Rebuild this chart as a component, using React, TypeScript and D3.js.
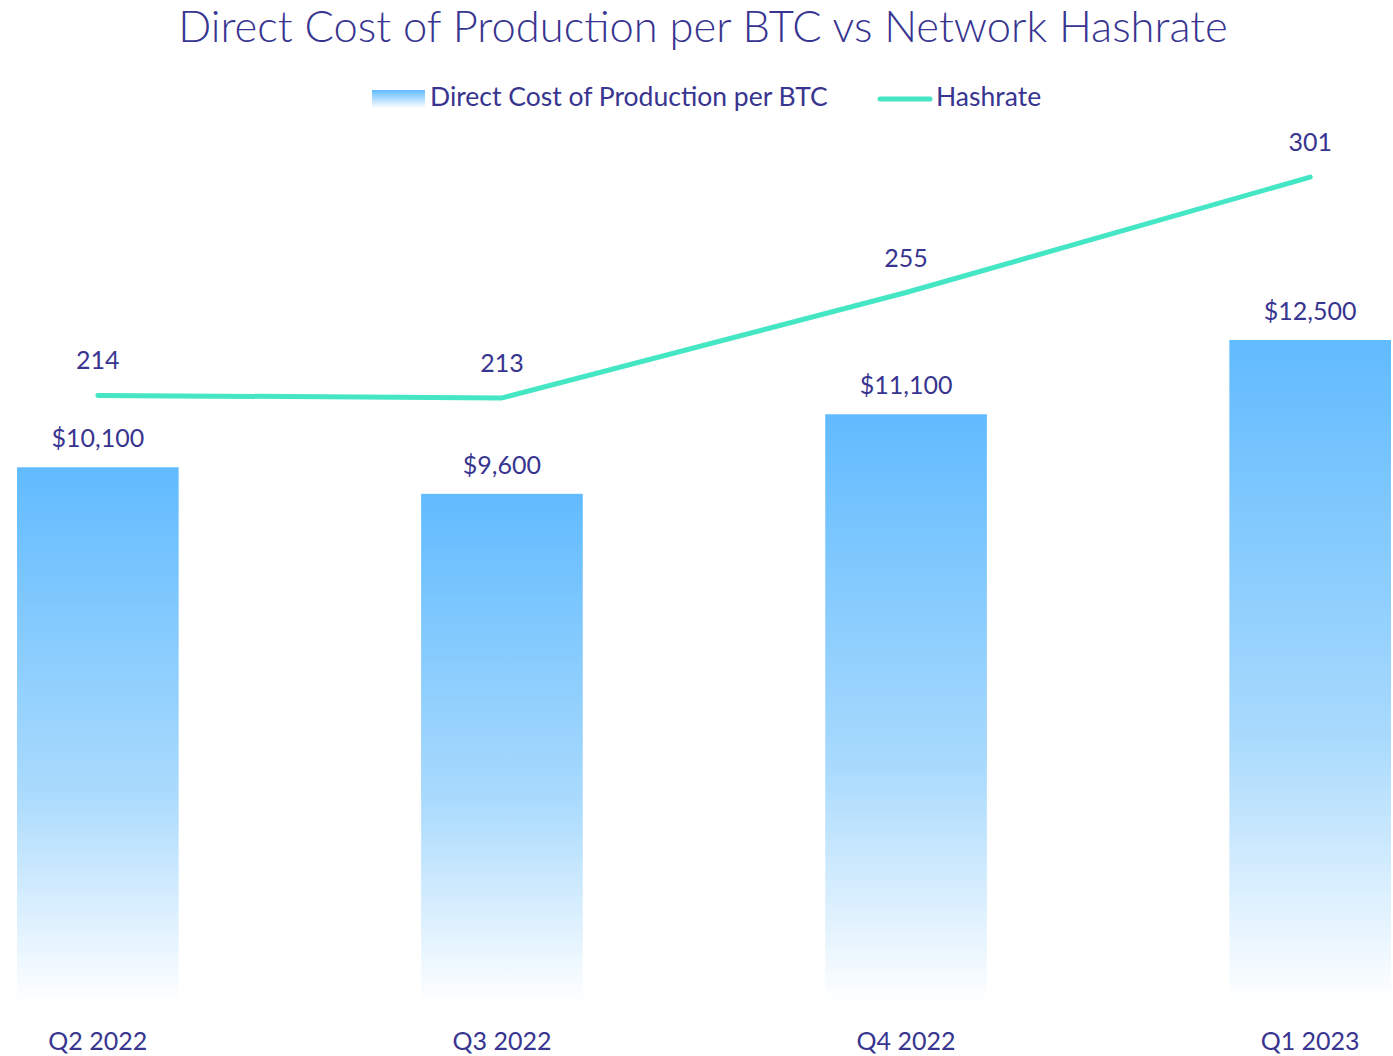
import React from "react";
import * as d3 from "d3";

const categories = ["Q2 2022", "Q3 2022", "Q4 2022", "Q1 2023"];
const costPerBTC = [10100, 9600, 11100, 12500];
const hashrate = [214, 213, 255, 301];
const title = "Direct Cost of Production per BTC vs Network Hashrate";
const seriesNames = ["Direct Cost of Production per BTC", "Hashrate"];

const W = 1393;
const H = 1056;
const TEXT = "#383590";
const LINE = "#45e6c4";
const FONT = "Lato, 'Open Sans', sans-serif";

export default function App() {
  const x = d3
    .scaleBand<string>()
    .domain(categories)
    .range([17, 1391])
    .paddingInner(0.6)
    .paddingOuter(0);
  const yBar = d3.scaleLinear().domain([0, 12500]).range([1003, 340]);
  const yLine = d3.scaleLinear().domain([214, 301]).range([395.4, 177.1]);

  const cx = (c: string) => (x(c) as number) + x.bandwidth() / 2;
  const line = d3
    .line<number>()
    .x((_, i) => cx(categories[i]))
    .y((d) => yLine(d));

  const fmt = (v: number) => "$" + d3.format(",")(v);

  return (
    <svg
      width={W}
      height={H}
      style={{ position: "absolute", left: 0, top: 0, background: "#fff" }}
    >
      <defs>
        <linearGradient id="barGrad" x1="0" y1="0" x2="0" y2="1">
          <stop offset="0" stopColor="#61bbff" />
          <stop offset="0.6" stopColor="#a9dafd" />
          <stop offset="1" stopColor="#ffffff" />
        </linearGradient>
        <linearGradient id="legGrad" x1="0" y1="0" x2="0" y2="1">
          <stop offset="0" stopColor="#61bbff" />
          <stop offset="1" stopColor="#ffffff" />
        </linearGradient>
      </defs>
      <text
        x={703}
        y={42}
        textAnchor="middle"
        fontFamily={FONT}
        fontWeight={300}
        fontSize={43.5}
        fill={TEXT}
      >
        {title}
      </text>
      {/* legend */}
      <rect x={372} y={90} width={53} height={18} fill="url(#legGrad)" />
      <text x={430} y={106} fontFamily={FONT} fontSize={26.5} fill={TEXT}>
        {seriesNames[0]}
      </text>
      <line
        x1={880}
        x2={930}
        y1={99}
        y2={99}
        stroke={LINE}
        strokeWidth={5}
        strokeLinecap="round"
      />
      <text x={936} y={106} fontFamily={FONT} fontSize={26.5} fill={TEXT}>
        {seriesNames[1]}
      </text>

      {/* bars */}
      {categories.map((c, i) => (
        <g key={c}>
          <rect
            x={x(c)}
            y={yBar(costPerBTC[i])}
            width={x.bandwidth()}
            height={yBar(0) - yBar(costPerBTC[i])}
            fill="url(#barGrad)"
          />
          <text
            x={cx(c)}
            y={yBar(costPerBTC[i]) - 20}
            textAnchor="middle"
            fontFamily={FONT}
            fontSize={25}
            fill={TEXT}
          >
            {fmt(costPerBTC[i])}
          </text>
          <text
            x={cx(c)}
            y={1050}
            textAnchor="middle"
            fontFamily={FONT}
            fontSize={25}
            fill={TEXT}
          >
            {c}
          </text>
        </g>
      ))}

      {/* line */}
      <path
        d={line(hashrate) || ""}
        fill="none"
        stroke={LINE}
        strokeWidth={5}
        strokeLinecap="round"
        strokeLinejoin="round"
      />
      {hashrate.map((v, i) => (
        <text
          key={i}
          x={cx(categories[i])}
          y={yLine(v) - 26}
          textAnchor="middle"
          fontFamily={FONT}
          fontSize={25}
          fill={TEXT}
        >
          {v}
        </text>
      ))}
    </svg>
  );
}
